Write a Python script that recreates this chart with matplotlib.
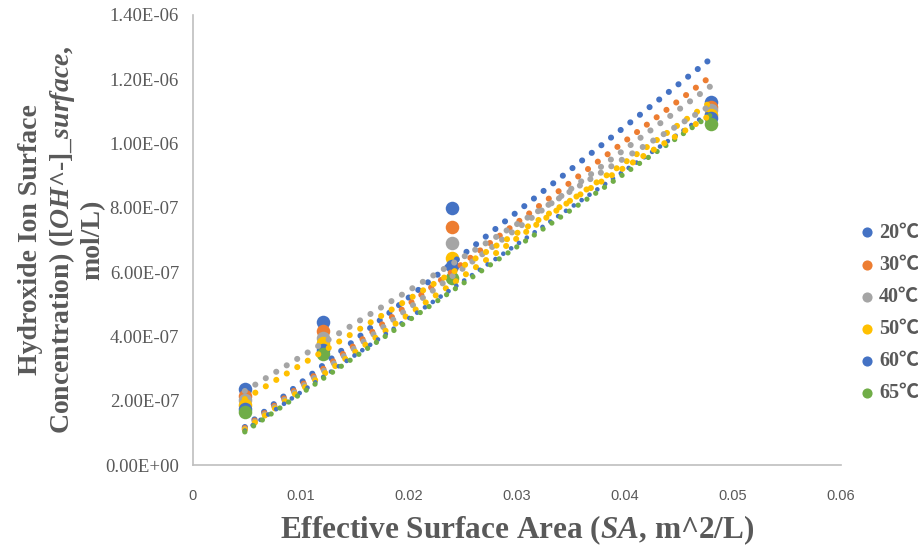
import matplotlib.pyplot as plt
from matplotlib import rcParams

rcParams['mathtext.fontset'] = 'custom'
rcParams['mathtext.it'] = 'Liberation Serif:italic:bold'
rcParams['mathtext.rm'] = 'Liberation Serif:bold'
rcParams['mathtext.bf'] = 'Liberation Serif:bold'

# 有效表面积 (m^2/L)
sa = [0.0048, 0.012, 0.024, 0.048]

# 各温度下的表面 OH- 浓度 (mol/L)
temps = ['20℃', '30℃', '40℃', '50℃', '60℃', '65℃']
oh_20 = [2.35e-7, 4.45e-7, 7.98e-7, 1.13e-6]
oh_30 = [2.15e-7, 4.17e-7, 7.40e-7, 1.114e-6]
oh_40 = [2.03e-7, 3.95e-7, 6.90e-7, 1.104e-6]
oh_50 = [1.88e-7, 3.79e-7, 6.45e-7, 1.089e-6]
oh_60 = [1.75e-7, 3.58e-7, 6.20e-7, 1.078e-6]
oh_65 = [1.65e-7, 3.45e-7, 5.83e-7, 1.062e-6]

# 趋势线端点
trend_x = [0.0048, 0.048]
trend_20 = [1.18e-7, 1.265e-6]
trend_30 = [1.15e-7, 1.21e-6]
trend_40 = [1.12e-7, 1.18e-6]
trend_50 = [1.10e-7, 1.13e-6]
trend_60 = [1.07e-7, 1.10e-6]
trend_65 = [1.03e-7, 1.09e-6]
trend_40b = [2.30e-7, 1.12e-6]
trend_50b = [2.05e-7, 1.09e-6]

colors = ['#4472C4', '#ED7D31', '#A5A5A5', '#FFC000', '#4472C4', '#70AD47']
series = [oh_20, oh_30, oh_40, oh_50, oh_60, oh_65]
trends = [trend_20, trend_30, trend_40, trend_50, trend_60, trend_65]
trend_w = [4.4, 4.4, 4.4, 4.4, 3.4, 3.8]
text_c = '#595959'

fig = plt.figure(figsize=(9.18, 5.49), dpi=100)
ax = fig.add_axes([0.2102, 0.153, 0.706, 0.820])

for ys, c, lab in zip(series, colors, temps):
    ax.scatter(sa, ys, s=95, color=c, label=lab, zorder=2, linewidths=0)

dot = (0, (0.01, 2.0))
for ys, c, w in zip(trends, colors, trend_w):
    ax.plot(trend_x, ys, color=c, lw=w, linestyle=dot, dash_capstyle='round', zorder=3)
ax.plot(trend_x, trend_40b, color=colors[2], lw=4.4, linestyle=dot, dash_capstyle='round', zorder=3)
ax.plot(trend_x, trend_50b, color=colors[3], lw=4.4, linestyle=dot, dash_capstyle='round', zorder=3)

ax.set_xlim(0, 0.06)
ax.set_ylim(0, 1.4e-6)
ax.set_xticks([0, 0.01, 0.02, 0.03, 0.04, 0.05, 0.06])
ax.set_xticklabels(['0', '0.01', '0.02', '0.03', '0.04', '0.05', '0.06'],
                   fontfamily='Liberation Sans', fontsize=10.5, color=text_c)
yt = [i * 2e-7 for i in range(8)]
ax.set_yticks(yt)
ax.set_yticklabels(['%.2E' % v for v in yt], fontfamily='Liberation Serif',
                   fontsize=13.5, color=text_c)
ax.tick_params(axis='both', length=0)
ax.tick_params(axis='x', pad=17)
ax.tick_params(axis='y', pad=10)

for s in ['top', 'right']:
    ax.spines[s].set_visible(False)
for s in ['left', 'bottom']:
    ax.spines[s].set_color('#BFBFBF')
    ax.spines[s].set_linewidth(1.2)

ax.set_xlabel(r'Effective Surface Area ($\mathit{SA}$, m^2/L)', fontfamily='Liberation Serif',
              fontweight='bold', fontsize=22.5, color=text_c, labelpad=8)
ax.set_ylabel('Hydroxide Ion Surface\nConcentration) ($\\mathit{[OH}$^-$\\mathit{]}$_$\\mathit{surface,}$\nmol/L)',
              fontfamily='Liberation Serif', fontweight='bold', fontsize=20, color=text_c,
              labelpad=0, linespacing=1.17)

leg = ax.legend(loc='center left', bbox_to_anchor=(0.927, 0.43), bbox_transform=fig.transFigure,
                frameon=False, markerscale=0.75, handlelength=0.6, handletextpad=0.3,
                labelspacing=0.6, borderpad=0,
                prop={'family': ['Liberation Serif', 'Noto Sans CJK SC'], 'weight': 'bold', 'size': 14.5})
for t in leg.get_texts():
    t.set_color(text_c)

plt.savefig('out.png', dpi=100)
